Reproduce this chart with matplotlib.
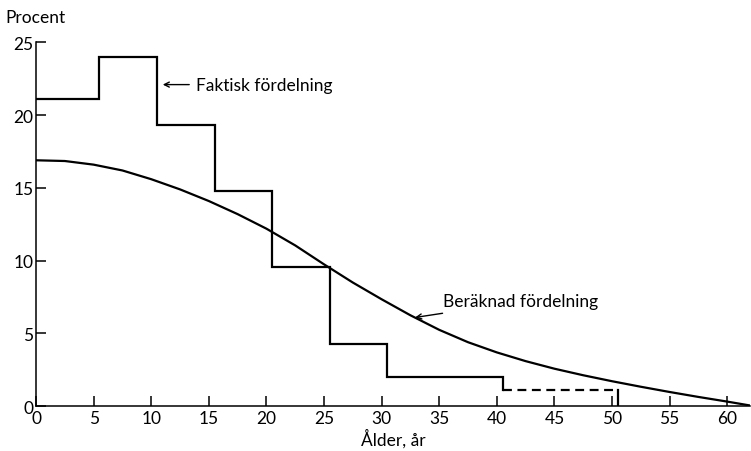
import numpy as np
import matplotlib
matplotlib.use("Agg")
import matplotlib.pyplot as plt

plt.rcParams['font.family'] = ['Lato', 'DejaVu Sans']

# faktisk fördelning (trappsteg), procent per åldersgrupp
step_edges = [0, 5.5, 10.5, 15.5, 20.5, 25.5, 30.5, 40.5]
step_values = [21.1, 24.0, 19.3, 14.8, 9.6, 4.25, 2.0]
# osäker del, streckad
dash_edges = [40.5, 50.5]
dash_value = 1.1

# beräknad fördelning, avläst ur kurvan
curve_x = [0, 2.5, 5, 7.5, 10, 12.5, 15, 17.5, 20, 22.5, 25, 27.5, 30,
           32.5, 35, 37.5, 40, 42.5, 45, 47.5, 50, 52.5, 55, 57.5, 60, 62]
curve_y = [16.9, 16.85, 16.6, 16.2, 15.6, 14.9, 14.1, 13.2, 12.2, 11.05, 9.75,
           8.5, 7.35, 6.25, 5.25, 4.4, 3.7, 3.1, 2.58, 2.13, 1.72, 1.34, 0.98,
           0.64, 0.32, 0.05]

xticks = list(range(0, 61, 5))
yticks = list(range(0, 26, 5))

fs = 12.5

fig = plt.figure(figsize=(7.51, 4.52), dpi=100)
ax = fig.add_axes([0.048, 0.099, 0.951, 0.805])

# trappsteg
sx = []
sy = []
for i, v in enumerate(step_values):
    sx += [step_edges[i], step_edges[i + 1]]
    sy += [v, v]
sx.append(step_edges[-1])
sy.append(dash_value)
ax.plot(sx, sy, color='black', lw=1.6, solid_joinstyle='miter')
ax.plot(dash_edges, [dash_value, dash_value], color='black', lw=1.6,
        dashes=(4, 2.5))
ax.plot([dash_edges[1], dash_edges[1]], [dash_value, 0], color='black', lw=1.6)

# kurva
ax.plot(curve_x, curve_y, color='black', lw=1.6, solid_joinstyle='round')

ax.annotate('Faktisk fördelning', xy=(11.0, 22.1), xytext=(13.9, 22.1),
            fontsize=fs, va='center', ha='left',
            arrowprops=dict(arrowstyle='->', color='black', lw=1.0,
                            shrinkA=3, shrinkB=0, mutation_scale=9))
ax.annotate('Beräknad fördelning', xy=(32.9, 6.1), xytext=(35.3, 7.2),
            fontsize=fs, va='center', ha='left',
            arrowprops=dict(arrowstyle='->', color='black', lw=1.0,
                            shrinkA=5, shrinkB=0, mutation_scale=9))

ax.set_xlim(0, 62)
ax.set_ylim(0, 25)
ax.set_xticks(xticks)
ax.set_yticks(yticks)
ax.tick_params(axis='both', direction='in', length=7, width=1.1,
               labelsize=fs, pad=3)
ax.tick_params(axis='y', pad=2)
for s in ['top', 'right']:
    ax.spines[s].set_visible(False)
for s in ['left', 'bottom']:
    ax.spines[s].set_linewidth(1.1)

ax.set_xlabel('Ålder, år', fontsize=fs, labelpad=1)
fig.text(5 / 751, 1 - 18 / 452, 'Procent', fontsize=fs, va='center', ha='left')

fig.savefig('out.png', dpi=100)
